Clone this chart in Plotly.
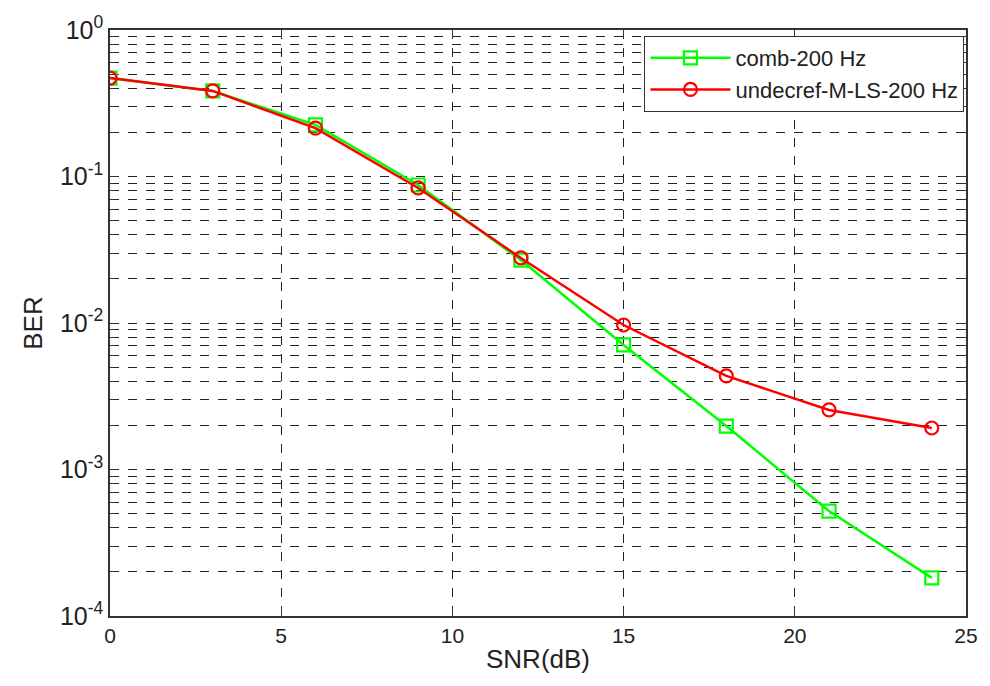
import plotly.graph_objects as go

# SNR sweep and measured bit error rates
snr_db = [0, 3, 6, 9, 12, 15, 18, 21, 24]
ber_comb = [0.47, 0.384, 0.225, 0.0875, 0.0269, 0.00708, 0.00198, 0.00052, 0.000182]
ber_undecref = [0.47, 0.384, 0.214, 0.0835, 0.0278, 0.00969, 0.00435, 0.00255, 0.00192]

x_ticks = [0, 5, 10, 15, 20, 25]
y_decades = [-4, -3, -2, -1, 0]
y_tick_text = ["10<sup>%d</sup>" % d for d in y_decades]

minor_vals = [m * 10.0 ** d for d in range(-4, 0) for m in range(2, 10)]

fig = go.Figure()
fig.add_trace(go.Scatter(
    x=snr_db, y=ber_comb, name="comb-200 Hz", mode="lines+markers",
    line=dict(color="#00ff00", width=2.5),
    marker=dict(symbol="square-open", size=13, color="#00ff00", line=dict(width=2.2)),
))
fig.add_trace(go.Scatter(
    x=snr_db, y=ber_undecref, name="undecref-M-LS-200 Hz", mode="lines+markers",
    line=dict(color="#ff0000", width=2.5),
    marker=dict(symbol="circle-open", size=13, color="#ff0000", line=dict(width=2.2)),
))

base_font = "Liberation Sans, Arial, sans-serif"

fig.update_layout(
    width=990, height=686,
    margin=dict(l=110, r=22, t=30, b=70),
    paper_bgcolor="white", plot_bgcolor="white",
    font=dict(family=base_font, size=19, color="#222222"),
    showlegend=True,
    legend=dict(
        x=0.998, y=0.99, xanchor="right", yanchor="top",
        bgcolor="white", bordercolor="#333333", borderwidth=1.2,
        font=dict(family=base_font, size=22, color="#222222"),
        itemwidth=80, tracegroupgap=2,
    ),
    xaxis=dict(
        range=[0, 25], tickvals=x_ticks, ticks="inside", ticklen=8,
        tickfont=dict(size=21),
        tickcolor="#333333", linecolor="#333333", linewidth=1.5, mirror="ticks",
        showgrid=True, gridcolor="#222222", griddash="dash", gridwidth=1,
        zeroline=False,
        title=dict(text="SNR(dB)", font=dict(size=26), standoff=4),
    ),
    yaxis=dict(
        type="log", range=[-4, 0],
        tickvals=[10.0 ** d for d in y_decades], ticktext=y_tick_text,
        tickfont=dict(size=25),
        ticks="inside", ticklen=8, tickcolor="#333333",
        linecolor="#333333", linewidth=1.5, mirror="ticks",
        showgrid=True, gridcolor="#222222", griddash="dash", gridwidth=1,
        minor=dict(tickvals=minor_vals, ticks="inside", ticklen=4, tickcolor="#333333",
                   showgrid=True, gridcolor="#222222", griddash="dash", gridwidth=1),
        zeroline=False,
        title=dict(text="BER", font=dict(size=26), standoff=10),
    ),
)

fig.write_html("out.html")
